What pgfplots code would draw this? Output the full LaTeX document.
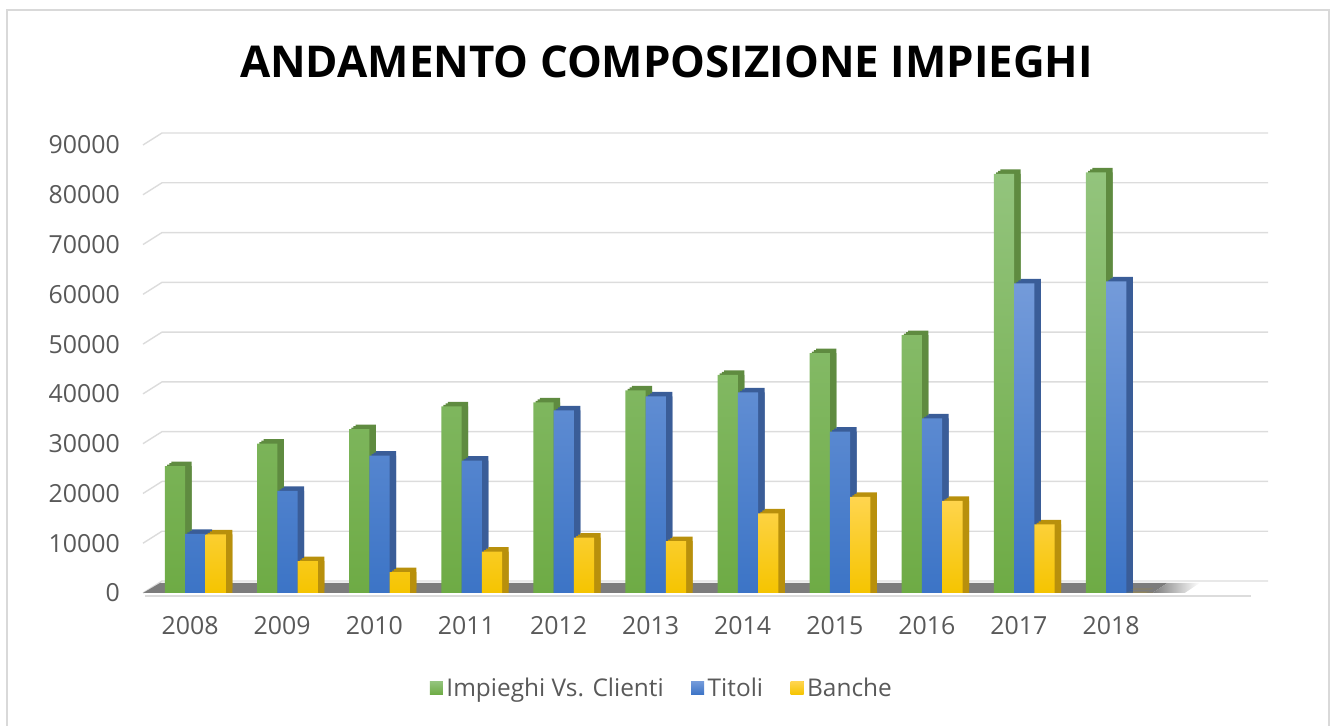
\documentclass[border=0pt]{standalone}
\usepackage{pgfplots}
\usepackage{pgfplotstable}
\pgfplotsset{compat=1.18}
\usepackage{fontspec}
\setmainfont{Open Sans}
\definecolor{gtop}{HTML}{93C47D}
\definecolor{gbot}{HTML}{6EAB45}
\definecolor{gside}{HTML}{5F8B40}
\definecolor{btop}{HTML}{749BDA}
\definecolor{bbot}{HTML}{3C74C6}
\definecolor{bside}{HTML}{3A5D98}
\definecolor{ytop}{HTML}{FFD54F}
\definecolor{ybot}{HTML}{F5C400}
\definecolor{yside}{HTML}{B8900C}
\definecolor{lgreen}{HTML}{70AD47}
\definecolor{lblue}{HTML}{4472C4}
\definecolor{lyellow}{HTML}{FFC000}
\definecolor{txt}{HTML}{595959}
\definecolor{gridc}{HTML}{DCDCDC}
\definecolor{framec}{HTML}{D9D9D9}
\definecolor{floorc}{HTML}{7C7C7C}

\pgfplotstableread{
x g b y
0 25500 11900 11800
1 30000 20500 6400
2 32900 27600 4200
3 37500 26600 8300
4 38300 36700 11100
5 40700 39500 10400
6 43800 40300 16000
7 48200 32400 19300
8 51800 35100 18500
9 84200 62200 13800
10 84500 62600 0
}\data

\begin{document}
\begin{tikzpicture}[x=1bp,y=1bp]
\useasboundingbox (0,0) rectangle (1333,725);
\draw[framec, line width=1.3bp] (7,-20) rectangle (1329,715);
\node[font=\fontsize{44}{52}\selectfont\bfseries, text=black] at (666.5,663) {ANDAMENTO COMPOSIZIONE IMPIEGHI};
\begin{axis}[
  at={(145bp,132bp)}, anchor=south west,
  scale only axis, width=1106bp, height=448bp,
  xmin=-0.49, xmax=11.52, ymin=0, ymax=90000,
  clip=false,
  ybar, bar width=0.22,
  axis line style={draw=none},
  major tick length=0pt,
  xtick={0,...,10},
  xticklabels={2008,2009,2010,2011,2012,2013,2014,2015,2016,2017,2018},
  ytick={0,10000,...,90000},
  scaled y ticks=false,
  /pgf/number format/1000 sep={},
  /pgf/number format/assume math mode=true,
  ticklabel style={font=\fontsize{25}{30}\selectfont, text=txt, inner sep=0pt},
  yticklabel style={anchor=east, xshift=-25bp},
  xticklabel style={anchor=base, yshift=-42bp},
  legend style={at={(0.468,-0.212)}, anchor=center, draw=none, fill=none,
    font=\fontsize{24.5}{29}\selectfont, text=txt,
    nodes={inner xsep=3.5bp, inner ysep=0pt},
    /tikz/every even column/.append style={column sep=24bp}},
  legend columns=3,
]
% grid lines (back wall)
\pgfplotsinvokeforeach{0,10000,20000,30000,40000,50000,60000,70000,80000,90000}{
  \draw[gridc, line width=1.4bp] ([xshift=-2bp]axis cs:-0.49,#1) -- ([xshift=17bp,yshift=12bp]axis cs:-0.49,#1) -- ([xshift=17bp,yshift=12bp]axis cs:11.52,#1);
}
% floor
\draw[gridc, line width=1.4bp] ([yshift=-3bp]axis cs:-0.49,0) -- ([yshift=-3bp]axis cs:11.52,0);
\fill[floorc] ([xshift=-2bp]axis cs:-0.49,0) -- ([xshift=15bp,yshift=10bp]axis cs:-0.49,0) -- ([xshift=15bp,yshift=10bp]axis cs:10.45,0) -- (axis cs:10.45,0) -- cycle;
\shade[left color=floorc, right color=white] (axis cs:10.45,0) -- ([xshift=15bp,yshift=10bp]axis cs:10.45,0) -- ([xshift=15bp,yshift=10bp]axis cs:10.8,0) -- (axis cs:10.8,0) -- cycle;

% green
\addplot[forget plot, draw=none, fill=gside, bar shift=-0.163, xshift=6.5bp] table[x=x,y=g]{\data};
\addplot[forget plot, draw=none, fill=gside, bar shift=-0.163, xshift=2.2bp, yshift=1.5bp] table[x=x,y=g]{\data};
\addplot[forget plot, draw=none, fill=gside, bar shift=-0.163, xshift=4.3bp, yshift=3bp] table[x=x,y=g]{\data};
\addplot[forget plot, draw=none, fill=gside, bar shift=-0.163, xshift=6.5bp, yshift=4.5bp] table[x=x,y=g]{\data};
\addplot[draw=none, top color=gtop, bottom color=gbot, bar shift=-0.163,
  legend image code/.code={\fill[lgreen] (0bp,-6.5bp) rectangle (13bp,6.5bp);}] table[x=x,y=g]{\data};
\addlegendentry{Impieghi Vs. Clienti}
% blue
\addplot[forget plot, draw=none, fill=bside, bar shift=0.057, xshift=6.5bp] table[x=x,y=b]{\data};
\addplot[forget plot, draw=none, fill=bside, bar shift=0.057, xshift=2.2bp, yshift=1.5bp] table[x=x,y=b]{\data};
\addplot[forget plot, draw=none, fill=bside, bar shift=0.057, xshift=4.3bp, yshift=3bp] table[x=x,y=b]{\data};
\addplot[forget plot, draw=none, fill=bside, bar shift=0.057, xshift=6.5bp, yshift=4.5bp] table[x=x,y=b]{\data};
\addplot[draw=none, top color=btop, bottom color=bbot, bar shift=0.057,
  legend image code/.code={\fill[lblue] (0bp,-6.5bp) rectangle (13bp,6.5bp);}] table[x=x,y=b]{\data};
\addlegendentry{Titoli}
% yellow
\addplot[forget plot, draw=none, fill=yside, bar shift=0.277, xshift=6.5bp] table[x=x,y=y]{\data};
\addplot[forget plot, draw=none, fill=yside, bar shift=0.277, xshift=2.2bp, yshift=1.5bp] table[x=x,y=y]{\data};
\addplot[forget plot, draw=none, fill=yside, bar shift=0.277, xshift=4.3bp, yshift=3bp] table[x=x,y=y]{\data};
\addplot[forget plot, draw=none, fill=yside, bar shift=0.277, xshift=6.5bp, yshift=4.5bp] table[x=x,y=y]{\data};
\addplot[draw=none, top color=ytop, bottom color=ybot, bar shift=0.277,
  legend image code/.code={\fill[lyellow] (0bp,-6.5bp) rectangle (13bp,6.5bp);}] table[x=x,y=y]{\data};
\addlegendentry{Banche}
\end{axis}
\end{tikzpicture}
\end{document}
